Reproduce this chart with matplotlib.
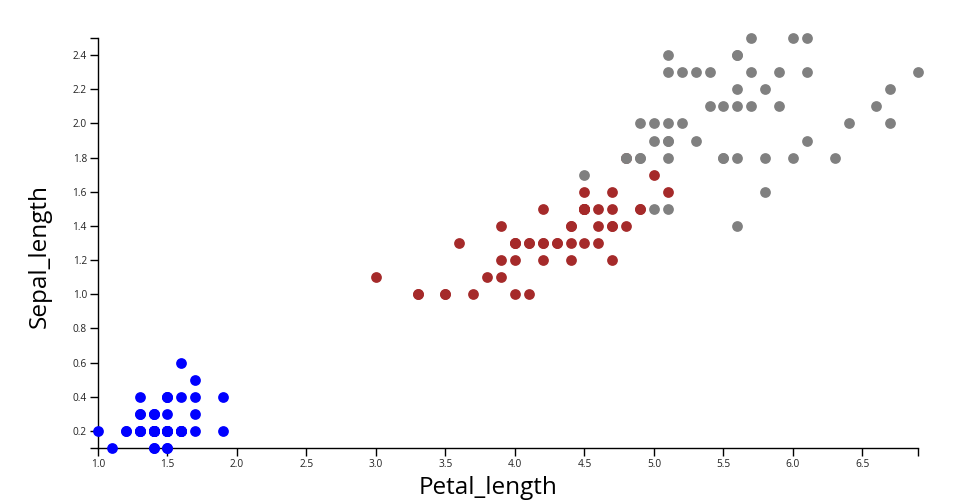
import matplotlib
matplotlib.use('Agg')
import matplotlib.pyplot as plt
from matplotlib.ticker import FixedLocator

plt.rcParams['font.family'] = ['Open Sans', 'DejaVu Sans']

# iris petal measurements, in dataset order
setosa_length = [1.4, 1.4, 1.3, 1.5, 1.4, 1.7, 1.4, 1.5, 1.4, 1.5, 1.5, 1.6, 1.4, 1.1, 1.2, 1.5, 1.3,
                 1.4, 1.7, 1.5, 1.7, 1.5, 1.0, 1.7, 1.9, 1.6, 1.6, 1.5, 1.4, 1.6, 1.6, 1.5, 1.5, 1.4,
                 1.5, 1.2, 1.3, 1.4, 1.3, 1.5, 1.3, 1.3, 1.3, 1.6, 1.9, 1.4, 1.6, 1.4, 1.5, 1.4]
setosa_width = [0.2, 0.2, 0.2, 0.2, 0.2, 0.4, 0.3, 0.2, 0.2, 0.1, 0.2, 0.2, 0.1, 0.1, 0.2, 0.4, 0.4,
                0.3, 0.3, 0.3, 0.2, 0.4, 0.2, 0.5, 0.2, 0.2, 0.4, 0.2, 0.2, 0.2, 0.2, 0.4, 0.1, 0.2,
                0.2, 0.2, 0.2, 0.1, 0.2, 0.2, 0.3, 0.3, 0.2, 0.6, 0.4, 0.3, 0.2, 0.2, 0.2, 0.2]

versicolor_length = [4.7, 4.5, 4.9, 4.0, 4.6, 4.5, 4.7, 3.3, 4.6, 3.9, 3.5, 4.2, 4.0, 4.7, 3.6, 4.4,
                     4.5, 4.1, 4.5, 3.9, 4.8, 4.0, 4.9, 4.7, 4.3, 4.4, 4.8, 5.0, 4.5, 3.5, 3.8, 3.7,
                     3.9, 5.1, 4.5, 4.5, 4.7, 4.4, 4.1, 4.0, 4.4, 4.6, 4.0, 3.3, 4.2, 4.2, 4.2, 4.3,
                     3.0, 4.1]
versicolor_width = [1.4, 1.5, 1.5, 1.3, 1.5, 1.3, 1.6, 1.0, 1.3, 1.4, 1.0, 1.5, 1.0, 1.4, 1.3, 1.4,
                    1.5, 1.0, 1.5, 1.1, 1.8, 1.3, 1.5, 1.2, 1.3, 1.4, 1.4, 1.7, 1.5, 1.0, 1.1, 1.0,
                    1.2, 1.6, 1.5, 1.6, 1.5, 1.3, 1.3, 1.3, 1.2, 1.4, 1.2, 1.0, 1.3, 1.2, 1.3, 1.3,
                    1.1, 1.3]

virginica_length = [6.0, 5.1, 5.9, 5.6, 5.8, 6.6, 4.5, 6.3, 5.8, 6.1, 5.1, 5.3, 5.5, 5.0, 5.1, 5.3,
                    5.5, 6.7, 6.9, 5.0, 5.7, 4.9, 6.7, 4.9, 5.7, 6.0, 4.8, 4.9, 5.6, 5.8, 6.1, 6.4,
                    5.6, 5.1, 5.6, 6.1, 5.6, 5.5, 4.8, 5.4, 5.6, 5.1, 5.1, 5.9, 5.7, 5.2, 5.0, 5.2,
                    5.4, 5.1]
virginica_width = [2.5, 1.9, 2.1, 1.8, 2.2, 2.1, 1.7, 1.8, 1.8, 2.5, 2.0, 1.9, 2.1, 2.0, 2.4, 2.3,
                   1.8, 2.2, 2.3, 1.5, 2.3, 2.0, 2.0, 1.8, 2.1, 1.8, 1.8, 1.8, 2.1, 1.6, 1.9, 2.0,
                   2.2, 1.5, 1.4, 2.3, 2.4, 1.8, 1.8, 2.1, 2.4, 2.3, 1.9, 2.3, 2.5, 2.3, 1.9, 2.0,
                   2.3, 1.8]

x_ticks = [1.0, 1.5, 2.0, 2.5, 3.0, 3.5, 4.0, 4.5, 5.0, 5.5, 6.0, 6.5]
y_ticks = [0.2, 0.4, 0.6, 0.8, 1.0, 1.2, 1.4, 1.6, 1.8, 2.0, 2.2, 2.4]

fig = plt.figure(figsize=(9.6, 5.0), dpi=100)
ax = fig.add_axes([98 / 960, 52 / 500, 820 / 960, 410 / 500])

ax.scatter(setosa_length, setosa_width, s=60, color='#0000ff', linewidths=0, zorder=3, clip_on=False)
ax.scatter(versicolor_length, versicolor_width, s=60, color='#a52a2a', linewidths=0, zorder=3, clip_on=False)
ax.scatter(virginica_length, virginica_width, s=60, color='#808080', linewidths=0, zorder=3, clip_on=False)

xmin = min(setosa_length + versicolor_length + virginica_length)
xmax = max(setosa_length + versicolor_length + virginica_length)
ymin = min(setosa_width + versicolor_width + virginica_width)
ymax = max(setosa_width + versicolor_width + virginica_width)
ax.set_xlim(xmin, xmax)
ax.set_ylim(ymin, ymax)

ax.set_xticks(x_ticks)
ax.set_xticklabels([f'{v:.1f}' for v in x_ticks])
ax.set_yticks(y_ticks)
ax.set_yticklabels([f'{v:.1f}' for v in y_ticks])
# outer ticks at the ends of each domain
ax.xaxis.set_minor_locator(FixedLocator([xmin, xmax]))
ax.yaxis.set_minor_locator(FixedLocator([ymin, ymax]))

ax.tick_params(which='both', length=6, width=1, color='black', labelsize=7.3, labelcolor='#222222', pad=2)

for side in ['top', 'right']:
    ax.spines[side].set_visible(False)
for side in ['left', 'bottom']:
    ax.spines[side].set_linewidth(1)
    ax.spines[side].set_color('black')

fig.text(488 / 960, 6 / 500, 'Petal_length', ha='center', va='baseline', fontsize=17.5, color='black')
fig.text(40 / 960, 244 / 500, 'Sepal_length', ha='center', va='center', rotation=90,
         fontsize=17.5, color='black')

fig.savefig('out.png', dpi=100)
